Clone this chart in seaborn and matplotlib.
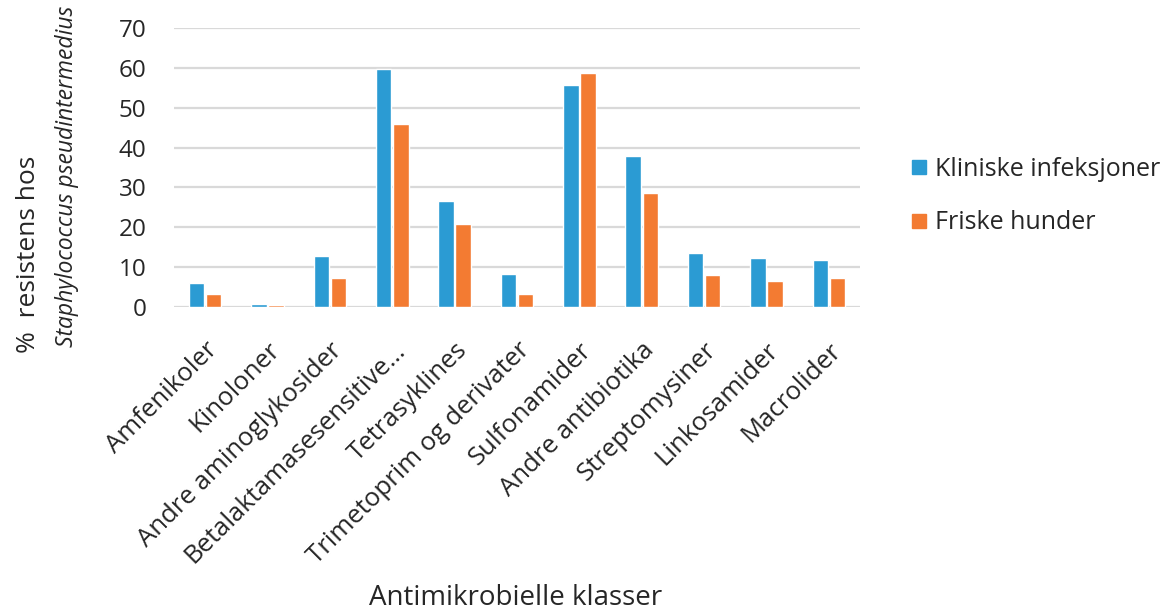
import matplotlib
matplotlib.use("Agg")
import matplotlib.pyplot as plt
import seaborn as sns
import pandas as pd
from matplotlib.lines import Line2D

categories = [
    "Amfenikoler", "Kinoloner", "Andre aminoglykosider", "Betalaktamasesensitive\u2026",
    "Tetrasyklines", "Trimetoprim og derivater", "Sulfonamider", "Andre antibiotika",
    "Streptomysiner", "Linkosamider", "Macrolider",
]
kliniske = [6.0, 0.8, 12.8, 59.8, 26.5, 8.4, 55.6, 38.0, 13.6, 12.4, 11.7]
friske = [3.3, 0.6, 7.4, 45.8, 20.9, 3.3, 58.6, 28.6, 8.0, 6.5, 7.4]
series = ["Kliniske infeksjoner", "Friske hunder"]
colors = ["#2b9bd3", "#f37b32"]

df = pd.DataFrame({
    "klasse": categories * 2,
    "verdi": kliniske + friske,
    "gruppe": [series[0]] * len(categories) + [series[1]] * len(categories),
})

sns.set_theme(style="white")
plt.rcParams["font.family"] = ["Open Sans", "DejaVu Sans"]
text_color = "#262626"

fig = plt.figure(figsize=(11.7, 6.15), dpi=100)
ax = fig.add_axes([174 / 1170, 1 - 307 / 615, (860 - 174) / 1170, (307 - 28) / 615])

sns.barplot(data=df, x="klasse", y="verdi", hue="gruppe", palette=colors,
            width=0.55, gap=0.1, saturation=1, legend=False, ax=ax, zorder=3)

ax.set_ylim(0, 70)
ax.set_yticks(range(0, 71, 10))
ax.yaxis.grid(True, color="#d9d9d9", linewidth=1.6, zorder=0)
ax.set_axisbelow(True)
for s in ax.spines.values():
    s.set_visible(False)
ax.tick_params(axis="both", length=0, colors=text_color)
ax.tick_params(axis="y", labelsize=17.5, pad=20)
ax.tick_params(axis="x", labelsize=18.5, pad=22)
plt.setp(ax.get_xticklabels(), rotation=45, ha="right", va="top", rotation_mode="anchor")
ax.set_xlabel("")
ax.set_ylabel("")

fig.text(29 / 1170, 1 - 353 / 615, "%  resistens hos", rotation=90, ha="center", va="bottom",
         fontsize=19, color=text_color)
fig.text(67 / 1170, 1 - 347 / 615, "Staphylococcus pseudintermedius", rotation=90, ha="center",
         va="bottom", fontsize=16.5, style="italic", color=text_color)
fig.text(516 / 1170, 1 - 598 / 615, "Antimikrobielle klasser", ha="center", va="center",
         fontsize=20, color=text_color)

handles = [Line2D([], [], marker="s", linestyle="none", markersize=10.5, color=c) for c in colors]
fig.legend(handles, series, loc="upper left", bbox_to_anchor=(884 / 1170, 1 - 134 / 615),
           frameon=False, fontsize=18, handletextpad=0.15, labelspacing=1.15,
           labelcolor=text_color, handlelength=1.0)

fig.savefig("out.png", dpi=100, facecolor="white")
